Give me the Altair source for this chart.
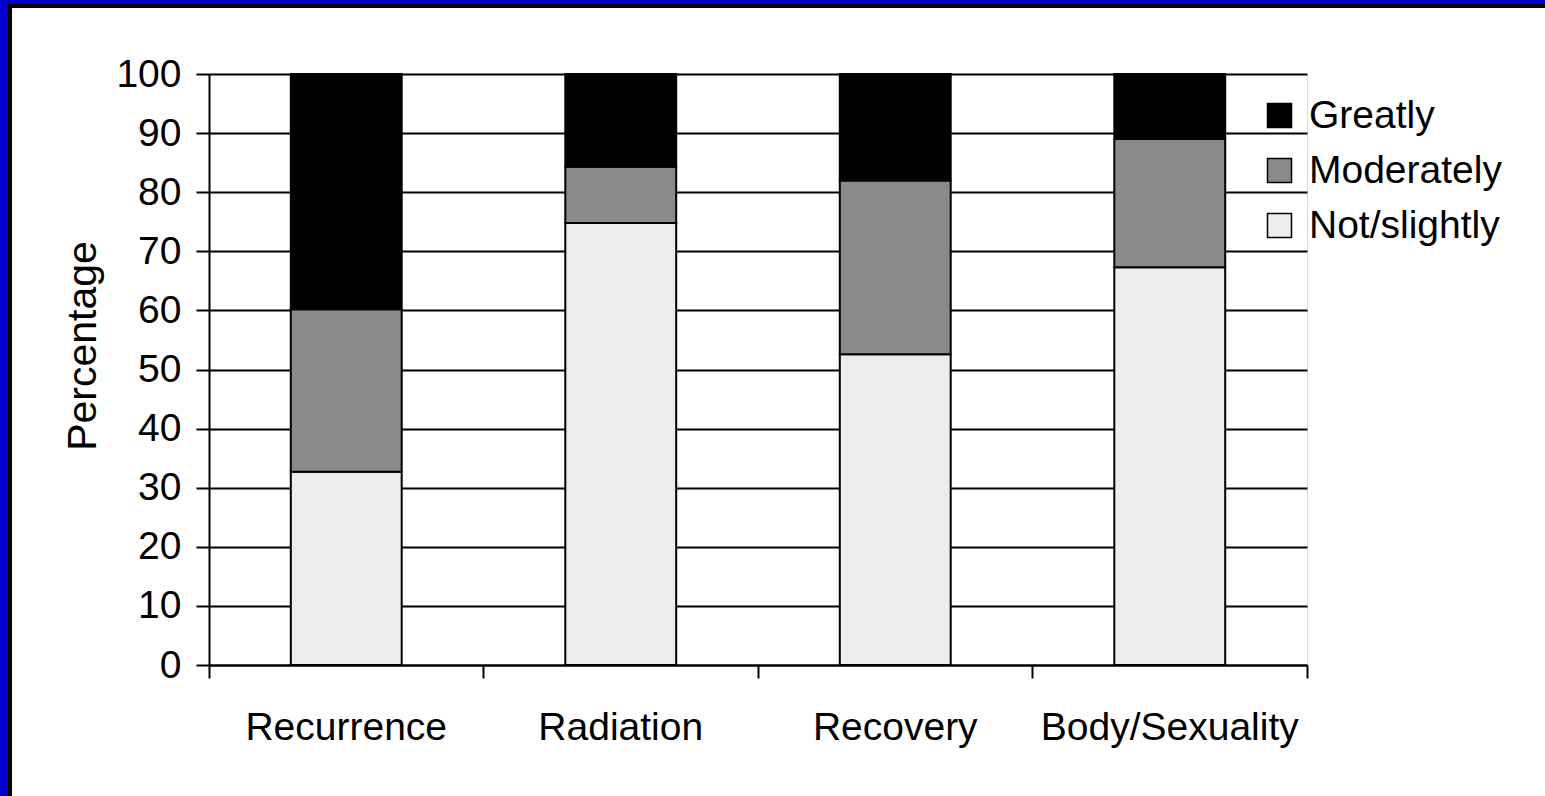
import altair as alt
import pandas as pd

categories = ["Recurrence", "Radiation", "Recovery", "Body/Sexuality"]
levels = ["Greatly", "Moderately", "Not/slightly"]
not_slightly = [32.7, 74.8, 52.6, 67.3]
moderately = [27.5, 9.5, 29.4, 21.7]
greatly = [39.8, 15.7, 18.0, 11.0]
y_ticks = list(range(0, 101, 10))
level_colors = ["#000000", "#8a8a8a", "#ececec"]
stack_rank = {"Not/slightly": 0, "Moderately": 1, "Greatly": 2}

rows = []
for i, c in enumerate(categories):
    for lvl, vals in (("Not/slightly", not_slightly), ("Moderately", moderately), ("Greatly", greatly)):
        rows.append({"Domain": c, "Level": lvl, "Percentage": vals[i], "rank": stack_rank[lvl]})
df = pd.DataFrame(rows)

FONT = "Liberation Sans"

bars = alt.Chart(df).mark_bar(stroke="black", strokeWidth=2, width={"band": 0.404}).encode(
    x=alt.X(
        "Domain:N", sort=categories, title=None,
        scale=alt.Scale(paddingInner=0, paddingOuter=0),
        axis=alt.Axis(
            bandPosition=1, tickExtra=True, labelAngle=0, labelFontSize=39,
            labelFont=FONT, labelColor="black", labelPadding=30, labelLimit=0,
            tickSize=13, tickColor="black", tickWidth=2,
            domainColor="black", domainWidth=2, grid=False,
        ),
    ),
    y=alt.Y(
        "Percentage:Q", stack="zero",
        scale=alt.Scale(domain=[0, 100], nice=False),
        axis=alt.Axis(
            values=y_ticks, title="Percentage", titleFontSize=41, titleFont=FONT,
            titleFontWeight="normal", titleColor="black", titleX=-114, titleY=271.5,
            titleBaseline="alphabetic", titleAlign="center", titleAngle=270,
            labelFontSize=39, labelFont=FONT, labelColor="black", labelPadding=15,
            tickSize=13, tickColor="black", tickWidth=2,
            domainColor="black", domainWidth=2,
            grid=True, gridColor="black", gridWidth=2, gridOpacity=1,
        ),
    ),
    color=alt.Color(
        "Level:N",
        scale=alt.Scale(domain=levels, range=level_colors),
        legend=alt.Legend(
            title=None, orient="none", legendX=1051, legendY=22,
            symbolType="square", symbolSize=576, symbolStrokeColor="black",
            symbolStrokeWidth=1.5, symbolOpacity=1,
            labelFontSize=39, labelFont=FONT, labelColor="black", labelLimit=0,
            labelOffset=10, rowPadding=15, padding=0,
        ),
    ),
    order=alt.Order("rank:Q", sort="ascending"),
)

one = pd.DataFrame({"k": [0]})

def frame_rect(x, x2, y, y2, color):
    return alt.Chart(one).mark_rect(color=color).encode(
        x=alt.value(x), x2=alt.value(x2), y=alt.value(y), y2=alt.value(y2)
    )

frame = (
    frame_rect(-209, 1336, -70, -66, "black")
    + frame_rect(-201, -197, -74, 722, "black")
    + frame_rect(-209, 1336, -74, -70, "#0000cc")
    + frame_rect(-209, -201, -74, 722, "#0000cc")
)

chart = alt.layer(bars, frame).properties(
    width=1098, height=591,
    padding={"left": 209, "top": 74, "right": 238, "bottom": 131},
    autosize=alt.AutoSizeParams(type="none"),
    background="white",
).configure_view(strokeWidth=0).configure(font=FONT)

chart.save("out.html", embed_options={"renderer": "svg", "actions": False})
